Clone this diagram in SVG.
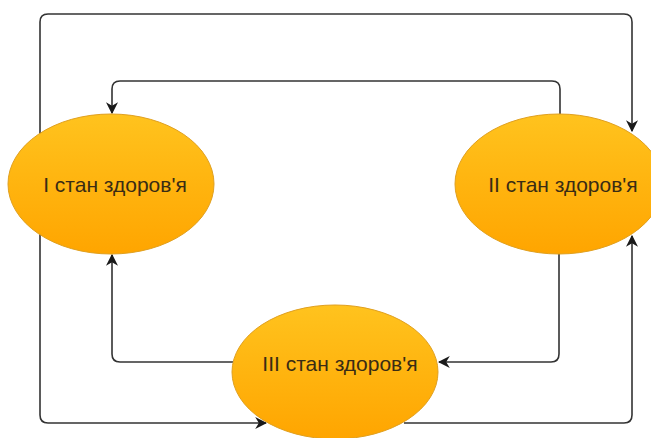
<svg xmlns="http://www.w3.org/2000/svg" width="651" height="438" viewBox="0 0 651 438">
  <defs>
    <linearGradient id="stateFill" x1="0" y1="0" x2="0" y2="1">
      <stop offset="0" stop-color="#ffc31e"/>
      <stop offset="1" stop-color="#ffa500"/>
    </linearGradient>
    <marker id="arrow" viewBox="0 0 10 10" refX="9" refY="5" markerWidth="12" markerHeight="12" markerUnits="userSpaceOnUse" orient="auto">
      <path d="M0,0 L10,5 L0,10 L3,5 Z" fill="#1a1a1a"/>
    </marker>
    <style>
      .edge { fill: none; stroke: #333; stroke-width: 1.6; marker-end: url(#arrow); }
      .state { fill: url(#stateFill); stroke: #e0a020; stroke-width: 1; }
      .label { font-family: "Liberation Sans", Arial, sans-serif; font-size: 21px; fill: #3a2c14; text-anchor: middle; dominant-baseline: central; }
    </style>
  </defs>
  <rect width="651" height="438" fill="#ffffff"/>

  <g id="connectors">
    <!-- I -> II over the top -->
    <path class="edge" d="M40,134 V22 Q40,14 48,14 H624 Q632,14 632,22 V131"/>
    <!-- II -> I inner loop -->
    <path class="edge" d="M560,114 V89 Q560,81 552,81 H120 Q112,81 112,89 V113"/>
    <!-- I -> III along the bottom -->
    <path class="edge" d="M40,234 V415 Q40,423 48,423 H266"/>
    <!-- III -> II along the bottom -->
    <path class="edge" d="M404,423 H624 Q632,423 632,415 V236"/>
    <!-- II -> III -->
    <path class="edge" d="M559,254 V354 Q559,362 551,362 H439"/>
    <!-- III -> I -->
    <path class="edge" d="M233,362 H120 Q112,362 112,354 V255"/>
  </g>

  <g id="state-1">
    <ellipse class="state" cx="111" cy="184" rx="103" ry="70"/>
    <text class="label" x="115" y="184">I стан здоров'я</text>
  </g>
  <g id="state-2">
    <ellipse class="state" cx="559" cy="184" rx="104" ry="70"/>
    <text class="label" x="563" y="184">II стан здоров'я</text>
  </g>
  <g id="state-3">
    <ellipse class="state" cx="335" cy="372" rx="103" ry="67"/>
    <text class="label" x="340" y="363">III стан здоров'я</text>
  </g>
</svg>
